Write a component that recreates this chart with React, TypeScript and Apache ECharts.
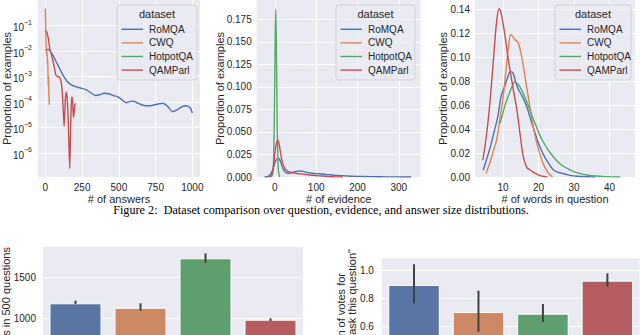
import React, { useEffect, useRef } from 'react';
import * as echarts from 'echarts';

const datasets = ['RoMQA', 'CWQ', 'HotpotQA', 'QAMParl'];
const lineColors = ['#4C72B0', '#DD8452', '#55A868', '#C44E52'];
const barColors = ['#5975A4', '#CC8963', '#5F9E6E', '#B55D60'];

// Panel 1: # of answers, y = log10(proportion of examples)
const answersRoMQALog10: number[][] = [[0,-1.98],[10,-1.95],[20,-1.93],[30,-1.98],[50,-2.15],[70,-2.38],[90,-2.6],[120,-2.94],[150,-3.2],[180,-3.33],[210,-3.4],[250,-3.46],[280,-3.52],[310,-3.64],[340,-3.74],[370,-3.71],[400,-3.65],[430,-3.67],[460,-3.74],[490,-3.78],[520,-3.9],[550,-4.02],[580,-3.97],[600,-3.96],[625,-4.03],[655,-4.1],[685,-4.14],[715,-4.14],[745,-4.1],[775,-4.06],[800,-4.04],[830,-4.15],[865,-4.37],[895,-4.3],[930,-4.18],[960,-4.14],[985,-4.22],[1000,-4.42]];
const answersCWQLog10: number[][] = [[0,-0.33],[2,-0.9],[4,-1.6],[6,-2.0],[8,-1.85],[10,-2.2],[12,-2.05],[14,-2.5],[16,-2.3],[18,-2.9],[20,-3.4],[22,-3.0],[24,-3.6],[27,-4.1]];
const answersHotpotQALog10: number[][] = [];
const answersQAMParlLog10: number[][] = [[3,-1.25],[8,-1.22],[14,-1.35],[20,-1.5],[26,-1.75],[32,-1.95],[40,-2.1],[50,-2.35],[60,-2.6],[72,-2.95],[85,-3.0],[95,-3.02],[105,-3.15],[112,-3.4],[118,-3.9],[124,-4.6],[128,-4.95],[136,-3.9],[143,-3.6],[149,-3.9],[155,-4.6],[161,-5.8],[166,-6.6],[171,-5.3],[176,-4.1],[181,-3.8],[186,-4.0],[191,-4.6],[196,-4.4],[201,-4.1],[206,-4.05]];
const answersXTicks = [0, 250, 500, 750, 1000];
const answersYTicks = [-6, -5, -4, -3, -2, -1];

// Panel 2: # of evidence
const evidenceRoMQA: number[][] = [[-25,0],[-15,0.001],[-8,0.005],[-3,0.011],[2,0.018],[6,0.0205],[9,0.021],[12,0.019],[16,0.014],[20,0.009],[25,0.0055],[30,0.0042],[38,0.0045],[45,0.0055],[55,0.0065],[62,0.0066],[70,0.006],[80,0.0049],[90,0.0042],[100,0.0038],[115,0.0033],[130,0.0026],[150,0.0018],[175,0.0011],[200,0.0007],[230,0.0004],[260,0.0002],[300,0.0001],[330,0]];
const evidenceCWQ: number[][] = [];
const evidenceHotpotQA: number[][] = [[-9,0],[-5,0.004],[-3,0.02],[-1,0.075],[0.5,0.14],[2,0.186],[3.5,0.15],[5,0.08],[7,0.025],[9,0.005],[12,0]];
const evidenceQAMParl: number[][] = [[-15,0],[-10,0.001],[-5,0.008],[-2,0.018],[1,0.03],[4,0.038],[7,0.041],[10,0.037],[13,0.029],[16,0.021],[20,0.014],[25,0.009],[30,0.0065],[40,0.005],[50,0.0042],[60,0.0036],[75,0.0028],[90,0.002],[110,0.0012],[130,0.0005],[150,0.0001],[165,0]];
const evidenceXTicks = [0, 100, 200, 300];
const evidenceYTicks = [0, 0.025, 0.05, 0.075, 0.1, 0.125, 0.15, 0.175];

// Panel 3: # of words in question
const wordsRoMQA: number[][] = [[4.4,0.0056],[5.5,0.016],[6.5,0.026],[7.5,0.038],[8.5,0.05],[9.5,0.068],[10.5,0.076],[11.3,0.083],[12.1,0.088],[12.8,0.087],[13.5,0.08],[14.2,0.074],[15.3,0.068],[16.7,0.0586],[18,0.046],[19.2,0.035],[20.4,0.025],[21.5,0.018],[22.5,0.013],[24,0.0065],[25,0.0045],[26.5,0.0032],[28.5,0.0016],[31,0.0006],[34,0.0002],[36,0]];
const wordsCWQ: number[][] = [[5.2,0.003],[6.2,0.011],[7.2,0.021],[8.2,0.031],[9.2,0.05],[10,0.066],[10.8,0.088],[11.5,0.108],[12.2,0.119],[12.8,0.117],[13.6,0.114],[14.3,0.112],[15,0.104],[15.6,0.095],[16.5,0.078],[17.5,0.06],[18.3,0.046],[19.2,0.032],[20.2,0.021],[21.2,0.012],[22.2,0.006],[23,0.0025],[24,0]];
const wordsHotpotQA: number[][] = [[9.2,0.045],[10,0.054],[10.8,0.062],[11.8,0.07],[12.6,0.076],[13.3,0.0795],[14,0.078],[14.8,0.075],[15.8,0.069],[16.8,0.062],[17.8,0.054],[19,0.045],[20.2,0.036],[21.4,0.029],[22.6,0.023],[24,0.0175],[25.5,0.0125],[27,0.009],[29,0.0058],[31,0.0034],[33.5,0.0017],[36,0.0008],[39,0.0003],[43,0]];
const wordsQAMParl: number[][] = [[4.3,0.014],[5.3,0.034],[6.3,0.062],[7.3,0.098],[8.2,0.13],[8.9,0.1405],[9.6,0.135],[10.6,0.117],[11.5,0.098],[12.9,0.073],[13.9,0.056],[14.8,0.036],[15.7,0.017],[16.7,0.008],[17.5,0.006],[18.5,0.004],[19.5,0.0025],[20.5,0.0012],[21.5,0.0004],[22.5,0]];
const wordsXTicks = [10, 20, 30, 40];
const wordsYTicks = [0, 0.02, 0.04, 0.06, 0.08, 0.1, 0.12, 0.14];

// Bottom-left: # of answers in 500 questions
const answerCounts = [1185, 1130, 1739, 983];
const answerCountsLow = [1176, 1094, 1684, 967];
const answerCountsHigh = [1217, 1185, 1800, 1000];
const answerCountsYTicks = [0, 500, 1000, 1500];

// Bottom-right: proportion of votes
const voteShares = [0.898, 0.705, 0.693, 0.929];
const voteSharesLow = [0.767, 0.564, 0.633, 0.886];
const voteSharesHigh = [1.046, 0.857, 0.762, 0.981];
const voteSharesYTicks = [0, 0.2, 0.4, 0.6, 0.8, 1.0];

const FONT = 'Liberation Sans, Arial, sans-serif';
const TXT = '#262626';
const BG = '#EAEAF2';

const panelSeries = [
  [answersRoMQALog10, answersCWQLog10, answersHotpotQALog10, answersQAMParlLog10],
  [evidenceRoMQA, evidenceCWQ, evidenceHotpotQA, evidenceQAMParl],
  [wordsRoMQA, wordsCWQ, wordsHotpotQA, wordsQAMParl],
];

function App() {
  const ref = useRef<HTMLDivElement>(null);
  useEffect(() => {
    if (!ref.current) return;
    const chart = echarts.init(ref.current, null, { renderer: 'svg' });

    const grids = [
      { left: 38, top: 0, width: 162, height: 177 },
      { left: 256.7, top: 0, width: 164, height: 177 },
      { left: 475, top: 0, width: 160, height: 177 },
      { left: 43, top: 246.7, width: 260, height: 152.8 },
      { left: 381.8, top: 258.3, width: 257.8, height: 152.4 },
    ].map((g) => ({ ...g, show: true, backgroundColor: BG, borderWidth: 0, containLabel: false, outerBoundsMode: 'none' }));

    const split = { show: true, lineStyle: { color: '#ffffff', width: 1 } };
    const lbl = { color: TXT, fontSize: 10, fontFamily: FONT };
    const nameStyle = { color: TXT, fontSize: 11, fontFamily: FONT };

    const valX = (gi: number, min: number, max: number, ticks: number[], name: string) => ({
      type: 'value', gridIndex: gi, min, max,
      axisLine: { show: false },
      axisTick: { show: false, customValues: ticks },
      axisLabel: { ...lbl, margin: 5, customValues: ticks, formatter: (v: number) => String(v) },
      splitLine: split,
      name, nameLocation: 'middle', nameGap: 16, nameTextStyle: nameStyle, nameMoveOverlap: false,
    });

    const xAxis: any[] = [
      valX(0, -50, 1052, answersXTicks, '# of answers'),
      valX(1, -44, 353, evidenceXTicks, '# of evidence'),
      valX(2, 2.1, 47.2, wordsXTicks, '# of words in question'),
      { type: 'category', gridIndex: 3, data: datasets, axisLine: { show: false }, axisTick: { show: false }, axisLabel: { ...lbl }, splitLine: { show: false } },
      { type: 'category', gridIndex: 4, data: datasets, axisLine: { show: false }, axisTick: { show: false }, axisLabel: { ...lbl }, splitLine: { show: false } },
    ];

    const yAxis: any[] = [
      {
        type: 'value', gridIndex: 0, min: -6.93, max: 0,
        axisLine: { show: false },
        axisTick: { show: false, customValues: answersYTicks },
        axisLabel: {
          customValues: answersYTicks, margin: 6,
          formatter: (v: number) => `{b|10}{e|\u2212${Math.abs(v)}}`,
          rich: {
            b: { fontSize: 10, fontFamily: FONT, color: TXT, lineHeight: 14, verticalAlign: 'bottom' },
            e: { fontSize: 7, fontFamily: FONT, color: TXT, lineHeight: 14, verticalAlign: 'top' },
          },
        },
        splitLine: split,
        name: 'Proportion of examples', nameLocation: 'middle', nameGap: 26, nameTextStyle: nameStyle, nameMoveOverlap: false,
      },
      {
        type: 'value', gridIndex: 1, min: 0, max: 0.1965,
        axisLine: { show: false },
        axisTick: { show: false, customValues: evidenceYTicks },
        axisLabel: { ...lbl, margin: 5, customValues: evidenceYTicks, formatter: (v: number) => v.toFixed(3) },
        splitLine: split,
        name: 'Proportion of examples', nameLocation: 'middle', nameGap: 31.5, nameTextStyle: nameStyle, nameMoveOverlap: false,
      },
      {
        type: 'value', gridIndex: 2, min: 0, max: 0.1478,
        axisLine: { show: false },
        axisTick: { show: false, customValues: wordsYTicks },
        axisLabel: { ...lbl, margin: 5, customValues: wordsYTicks, formatter: (v: number) => v.toFixed(2) },
        splitLine: split,
        name: 'Proportion of examples', nameLocation: 'middle', nameGap: 26.5, nameTextStyle: nameStyle, nameMoveOverlap: false,
      },
      {
        type: 'value', gridIndex: 3, min: 0, max: 1882,
        axisLine: { show: false },
        axisTick: { show: false, customValues: answerCountsYTicks },
        axisLabel: { ...lbl, margin: 7, customValues: answerCountsYTicks, formatter: (v: number) => String(v) },
        splitLine: split,
      },
      {
        type: 'value', gridIndex: 4, min: 0, max: 1.0886,
        axisLine: { show: false },
        axisTick: { show: false, customValues: voteSharesYTicks },
        axisLabel: { ...lbl, margin: 8, customValues: voteSharesYTicks, formatter: (v: number) => v.toFixed(1) },
        splitLine: split,
      },
    ];

    const series: any[] = [];
    panelSeries.forEach((panel, pi) => {
      panel.forEach((data, di) => {
        series.push({
          type: 'line', name: datasets[di], xAxisIndex: pi, yAxisIndex: pi,
          data, showSymbol: false, symbol: 'none', smooth: pi === 0 ? 0.2 : 0.35,
          lineStyle: { width: 1.4, color: lineColors[di] }, itemStyle: { color: lineColors[di] },
          clip: true, z: 2 + di,
        });
      });
    });

    const barPanel = (gi: number, vals: number[], lo: number[], hi: number[]) => {
      series.push({
        type: 'bar', xAxisIndex: gi, yAxisIndex: gi, barWidth: '80%',
        data: vals.map((v, i) => ({ value: v, itemStyle: { color: barColors[i] } })),
        itemStyle: { borderColor: '#ffffff', borderWidth: 1 }, z: 2,
      });
      series.push({
        type: 'custom', xAxisIndex: gi, yAxisIndex: gi, z: 5,
        encode: { x: 0, y: [1, 2] },
        data: vals.map((_, i) => [i, lo[i], hi[i]]),
        renderItem: (_p: any, api: any) => {
          const a = api.coord([api.value(0), api.value(1)]);
          const b = api.coord([api.value(0), api.value(2)]);
          return { type: 'line', shape: { x1: a[0], y1: a[1], x2: b[0], y2: b[1] }, style: { stroke: '#424242', lineWidth: 2 } };
        },
      });
    };
    barPanel(3, answerCounts, answerCountsLow, answerCountsHigh);
    barPanel(4, voteShares, voteSharesLow, voteSharesHigh);

    const legend = (x0: number, w: number) => {
      const els: any[] = [
        { type: 'rect', z: 50, shape: { x: x0, y: 5, width: w, height: 75, r: 3 }, style: { fill: 'rgba(234,234,242,0.8)', stroke: 'rgba(204,204,204,0.8)', lineWidth: 1 } },
        { type: 'text', z: 51, x: x0 + w / 2, y: 13.5, style: { text: 'dataset', fontSize: 11, fontFamily: FONT, fill: TXT, align: 'center', verticalAlign: 'middle' } },
      ];
      datasets.forEach((d, i) => {
        const y = 29.3 + i * 13.6;
        els.push({ type: 'line', z: 51, shape: { x1: x0 + 4.5, y1: y, x2: x0 + 26, y2: y }, style: { stroke: lineColors[i], lineWidth: 1.4 } });
        els.push({ type: 'text', z: 51, x: x0 + 32, y, style: { text: d, fontSize: 10, fontFamily: FONT, fill: TXT, align: 'left', verticalAlign: 'middle' } });
      });
      return els;
    };

    const rotName = (x: number, yTop: number, text: string) => ({
      type: 'text', x, y: yTop, rotation: Math.PI / 2,
      style: { text, fontSize: 11, fontFamily: FONT, fill: TXT, align: 'right', verticalAlign: 'middle' },
    });

    const graphic: any[] = [
      ...legend(117, 80),
      ...legend(336, 79),
      ...legend(555, 76),
      { type: 'text', x: 321, y: 210, style: { text: 'Figure 2:  Dataset comparison over question, evidence, and answer size distributions.', fontSize: 12.2, fontFamily: 'Liberation Serif, Times New Roman, serif', fill: '#000', align: 'center', verticalAlign: 'middle' } },
      rotName(5.5, 247, '# of answers in 500 questions'),
      rotName(341, 273, 'Proportion of votes for'),
      rotName(352, 249, '"I would ask this question"'),
    ];

    chart.setOption({
      animation: false,
      backgroundColor: '#ffffff',
      textStyle: { fontFamily: FONT, color: TXT },
      grid: grids,
      xAxis, yAxis, series, graphic,
    });
    return () => chart.dispose();
  }, []);

  return (
    <div style={{ position: 'absolute', left: 0, top: 0, width: 640, height: 335, overflow: 'hidden', background: '#fff' }}>
      <div ref={ref} style={{ width: 640, height: 420 }} />
    </div>
  );
}

export default App;
